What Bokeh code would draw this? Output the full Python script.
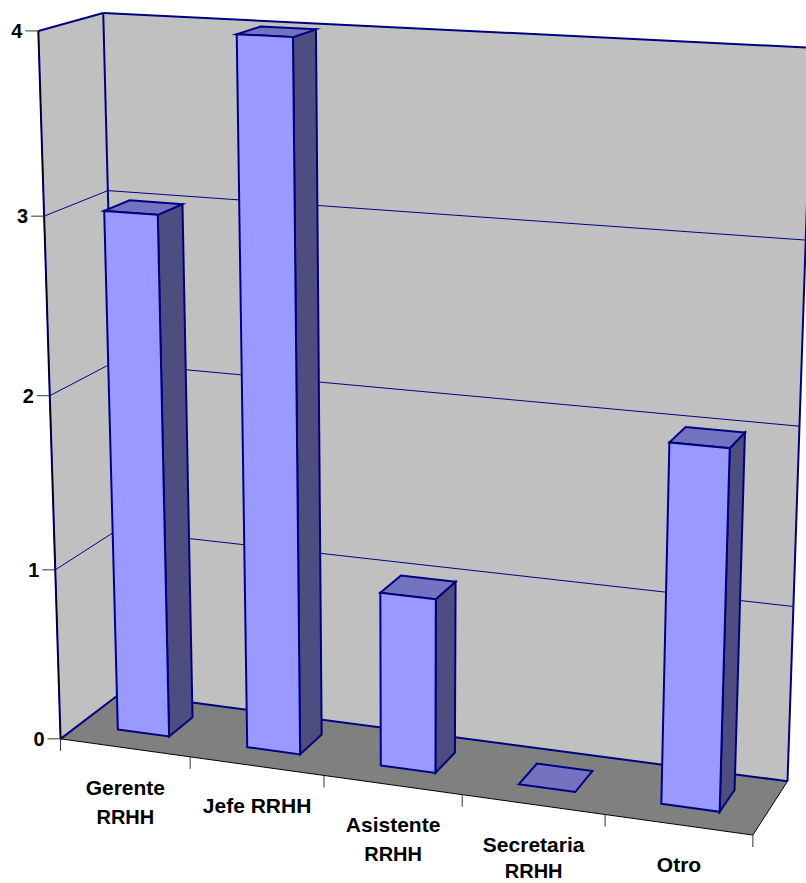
import numpy as np
from bokeh.core.properties import value
from bokeh.embed import file_html
from bokeh.models import Range1d
from bokeh.plotting import figure
from bokeh.resources import INLINE

# Chart data
categories = [["Gerente", "RRHH"], ["Jefe RRHH"], ["Asistente", "RRHH"], ["Secretaria", "RRHH"], ["Otro"]]
counts = [3, 4, 1, 0, 2]
value_ticks = [0, 1, 2, 3, 4]

# Perspective camera: (category, value, depth) in homogeneous form -> page pixels
CAMERA = np.array([
    [126.6141, -6.123371, 65.41726, 60.06119],
    [6.103127, -177.4311, -16.33502, 738.3333],
    [-0.01574502, -0.01487893, 0.04255822, 1.0],
])

# Column footprint inside its category slot (x) and inside the floor depth (z)
GAP_X = 0.30
DEPTH_FRONT = 0.31
DEPTH_BACK = 0.72

PAGE_W = 806
PAGE_H = 883
WALL = "#C0C0C0"
FLOOR = "#808080"
NAVY = "#000080"
FACE = "#9999FF"
SIDE = "#4D4D80"
TOP = "#7373BF"
INK = "#000000"
FONT = value("Liberation Sans")


def project(x, y, z):
    h = CAMERA @ np.array([x, y, z, 1.0])
    return h[0] / h[2], h[1] / h[2]


def poly(*corners):
    pts = [project(*c) for c in corners]
    return [p[0] for p in pts], [p[1] for p in pts]


n_cat = len(categories)
y_top = max(value_ticks)

p = figure(
    width=PAGE_W, height=PAGE_H, output_backend="svg", toolbar_location=None,
    x_range=Range1d(0, PAGE_W), y_range=Range1d(PAGE_H, 0),
    min_border=0, outline_line_color=None, background_fill_color="white",
    x_axis_type=None, y_axis_type=None,
)
p.grid.visible = False

# Walls and floor
xs, ys = poly((0, 0, 1), (n_cat, 0, 1), (n_cat, y_top, 1), (0, y_top, 1))
p.patch(xs, ys, fill_color=WALL, line_color=None)
xs, ys = poly((0, 0, 0), (0, 0, 1), (0, y_top, 1), (0, y_top, 0))
p.patch(xs, ys, fill_color=WALL, line_color=None)
xs, ys = poly((0, 0, 0), (n_cat, 0, 0), (n_cat, 0, 1), (0, 0, 1))
p.patch(xs, ys, fill_color=FLOOR, line_color=None)

# Horizontal grid on both walls
for v in value_ticks[1:-1]:
    xs, ys = poly((0, v, 0), (0, v, 1), (n_cat, v, 1))
    p.line(xs, ys, line_color=NAVY, line_width=1)

# Wall and floor outlines
for a, b in [
    ((0, y_top, 0), (0, y_top, 1)), ((0, y_top, 1), (n_cat, y_top, 1)),
    ((0, y_top, 1), (0, 0, 1)), ((n_cat, y_top, 1), (n_cat, 0, 1)),
    ((0, 0, 0), (0, y_top, 0)), ((0, 0, 0), (0, 0, 1)), ((0, 0, 1), (n_cat, 0, 1)),
]:
    xs, ys = poly(a, b)
    p.line(xs, ys, line_color=NAVY, line_width=2)

# Axis lines drawn over the front edges
xs, ys = poly((0, 0, 0), (0, y_top, 0))
p.line(xs, ys, line_color=INK, line_width=1)
xs, ys = poly((0, 0, 0), (n_cat, 0, 0), (n_cat, 0, 1))
p.line(xs, ys, line_color=INK, line_width=1)

# Value axis ticks and labels
for v in value_ticks:
    x0, y0 = project(0, v, 0)
    p.segment([x0 - 13], [y0], [x0], [y0], line_color="#333333", line_width=1)
    p.text([x0 - 16], [y0], text=[str(v)], text_font=FONT, text_font_style="bold",
           text_font_size="20px", text_color=INK, text_align="right", text_baseline="middle")

# Category axis ticks and labels; the lowest line is kept clear of the page edge
for k in range(n_cat + 1):
    x0, y0 = project(k, 0, 0)
    p.segment([x0], [y0], [x0], [y0 + 12], line_color="#333333", line_width=1)
for k, lines in enumerate(categories):
    xa, ya = project(k, 0, 0)
    xb, yb = project(k + 1, 0, 0)
    for i, line in enumerate(lines):
        size = "20px" if line.isupper() else "21px"
        y_label = min((ya + yb) / 2 + 39.5 + 29.5 * i, PAGE_H - 13)
        p.text([(xa + xb) / 2], [y_label], text=[line], text_font=FONT,
               text_font_style="bold", text_font_size=size, text_color=INK,
               text_align="center", text_baseline="middle")

# Columns, left to right so each one overlaps the wall behind it
for k, v in enumerate(counts):
    l, r = k + GAP_X, k + 1 - GAP_X
    f, b = DEPTH_FRONT, DEPTH_BACK
    if v > 0:
        xs, ys = poly((r, 0, f), (r, 0, b), (r, v, b), (r, v, f))
        p.patch(xs, ys, fill_color=SIDE, line_color=NAVY, line_width=2, line_join="miter")
    xs, ys = poly((l, v, f), (r, v, f), (r, v, b), (l, v, b))
    p.patch(xs, ys, fill_color=TOP, line_color=NAVY, line_width=2, line_join="miter")
    if v > 0:
        xs, ys = poly((l, 0, f), (r, 0, f), (r, v, f), (l, v, f))
        p.patch(xs, ys, fill_color=FACE, line_color=NAVY, line_width=2, line_join="miter")

open("out.html", "w").write(file_html(p, INLINE))
